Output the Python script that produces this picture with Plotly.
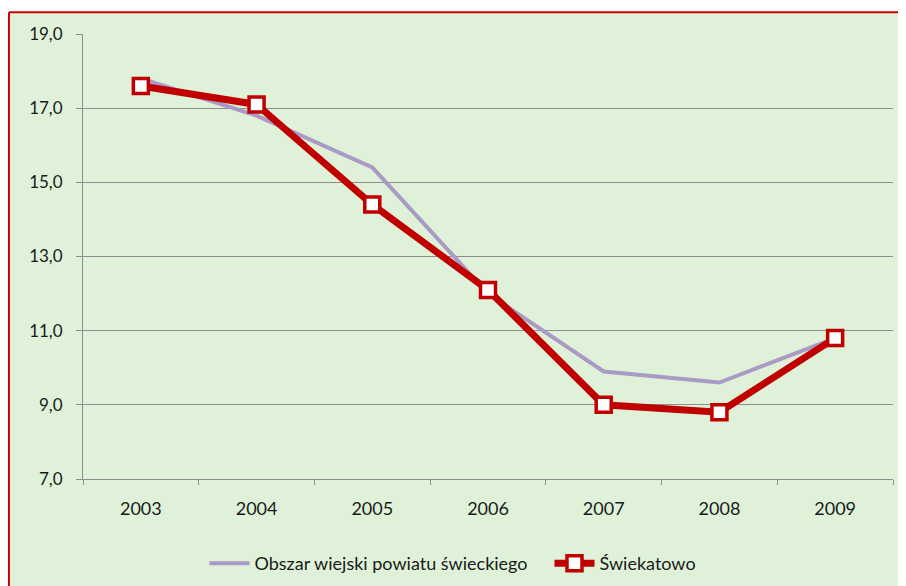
import plotly.graph_objects as go

# Data
years = ["2003", "2004", "2005", "2006", "2007", "2008", "2009"]
obszar_wiejski = [17.8, 16.8, 15.4, 12.0, 9.9, 9.6, 10.8]
swiekatowo = [17.6, 17.1, 14.4, 12.1, 9.0, 8.8, 10.8]
y_ticks = [7, 9, 11, 13, 15, 17, 19]

BG = "#DFF2D9"
RED = "#C00000"
BORDER = "#CC0000"
PURPLE = "#A99BC4"
GRID = "#8E8E8E"
FAMILY = "Lato, Open Sans, sans-serif"
TXT = "#1A1A1A"

fig = go.Figure()

fig.add_trace(go.Scatter(
    x=years, y=obszar_wiejski,
    name="Obszar wiejski powiatu świeckiego",
    mode="lines",
    line=dict(color=PURPLE, width=4),
))

fig.add_trace(go.Scatter(
    x=years, y=swiekatowo,
    name="Świekatowo",
    mode="lines+markers",
    line=dict(color=RED, width=7),
    marker=dict(symbol="square", size=15, color="white",
                line=dict(color=RED, width=3.5)),
))

# white strip above the chart frame, then the red frame lines (top + left)
top_y = 1.049
fig.add_shape(type="rect", xref="paper", yref="paper", layer="below",
              x0=-0.2, x1=1.2, y0=top_y, y1=1.2,
              fillcolor="white", line=dict(width=0))
fig.add_shape(type="line", xref="paper", yref="paper", layer="below",
              x0=-0.0914, x1=1.2, y0=top_y, y1=top_y,
              line=dict(color=BORDER, width=2))
fig.add_shape(type="line", xref="paper", yref="paper", layer="below",
              x0=-0.0914, x1=-0.0914, y0=-0.4, y1=top_y,
              line=dict(color=BORDER, width=2))

# the page body adds ~8px margin, so margins are shifted by that
fig.update_layout(
    width=906, height=586,
    margin=dict(l=75, r=21, t=26, b=115),
    paper_bgcolor=BG,
    plot_bgcolor="rgba(0,0,0,0)",
    separators=", ",
    font=dict(family=FAMILY, size=17, color=TXT),
    showlegend=True,
    legend=dict(orientation="h", x=0.15, xanchor="left", y=-0.19,
                yanchor="middle", bgcolor="rgba(0,0,0,0)",
                font=dict(family=FAMILY, size=18, color=TXT),
                itemwidth=40,
                entrywidth=290, entrywidthmode="pixels"),
)

fig.update_xaxes(
    type="category", range=[-0.5, 6.5],
    showgrid=False,
    showline=True, linecolor=GRID, linewidth=1,
    ticks="outside", tickson="boundaries", ticklen=5, tickcolor=GRID,
    ticklabelstandoff=13,
    tickfont=dict(family=FAMILY, size=18, color=TXT),
    zeroline=False,
)

fig.update_yaxes(
    range=[7, 19],
    tickvals=y_ticks, tickformat=".1f",
    showgrid=True, gridcolor=GRID, gridwidth=1,
    showline=True, linecolor=GRID, linewidth=1,
    ticks="outside", ticklen=6, tickcolor=GRID,
    ticklabelstandoff=10,
    zeroline=False,
)

fig.write_html("out.html")
